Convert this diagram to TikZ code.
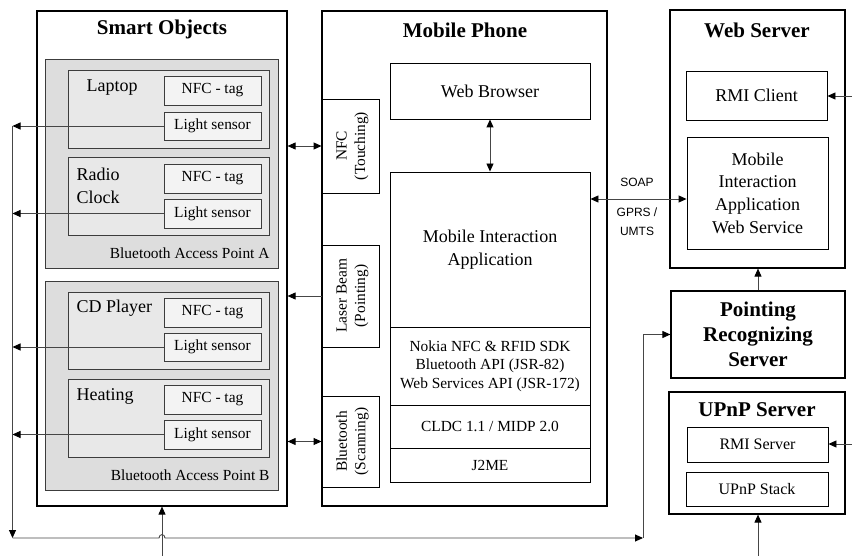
\documentclass[tikz,border=0pt]{standalone}
\usepackage{fontspec}
\setmainfont{Liberation Serif}
\newfontfamily\soapfont{Liberation Sans}
\usetikzlibrary{arrows.meta}
\definecolor{apfill}{RGB}{221,221,221}
\definecolor{objfill}{RGB}{232,232,232}
\definecolor{tagfill}{RGB}{243,243,243}
\definecolor{linegray}{RGB}{70,70,70}
\definecolor{boxgray}{RGB}{60,60,60}
\begin{document}
\begin{tikzpicture}[x=1pt,y=-1pt,
  outerbox/.style={draw=black, line width=1.2pt, inner sep=0pt},
  apbox/.style={draw=boxgray, line width=0.9pt, fill=apfill, inner sep=0pt},
  objbox/.style={draw=boxgray, line width=0.9pt, fill=objfill, inner sep=0pt},
  tagbox/.style={draw=boxgray, line width=0.9pt, fill=tagfill, inner sep=0pt, smallf, minimum width=97pt},
  plainbox/.style={draw=black, line width=0.9pt, inner sep=0pt, align=center},
  conn/.style={draw=linegray, line width=0.9pt},
  onearrow/.style={-{Triangle[length=8pt,width=7pt,color=black]}},
  twoarrow/.style={{Triangle[length=8pt,width=7pt,color=black]}-{Triangle[length=8pt,width=7pt,color=black]}},
  titlef/.style={font=\fontsize{21}{25}\selectfont\bfseries, align=center},
  regf/.style={font=\fontsize{18}{22.7}\selectfont, align=center},
  smallf/.style={font=\fontsize{15.4}{18.5}\selectfont, align=center},
  soapf/.style={font=\soapfont\fontsize{12}{14}\selectfont}
]
\useasboundingbox (0,0) rectangle (852,556);

% ---------------- Smart Objects ----------------
\node[outerbox, minimum width=250pt, minimum height=495pt] (so) at (162,258.5) {};
\node[titlef] (sot) at (162,29) {Smart Objects};

\node[apbox, minimum width=233pt, minimum height=209pt] (apa) at (161.5,163.5) {};
\node[objbox, minimum width=201pt, minimum height=78pt] (lap) at (168.5,109) {};
\node[tagbox, minimum height=29pt] (nfc1) at (212.5,90.5) {NFC - tag};
\node[tagbox, minimum height=28pt] (ls1) at (212.5,126) {Light sensor};
\node[regf, anchor=west] (lapt) at (83,88) {Laptop};

\node[objbox, minimum width=201pt, minimum height=78pt] (rad) at (168.5,196) {};
\node[tagbox, minimum height=29pt] (nfc2) at (212.5,178.5) {NFC - tag};
\node[tagbox, minimum height=29pt] (ls2) at (212.5,213.5) {Light sensor};
\node[regf, anchor=west, align=left] (radt) at (73,186) {Radio\\Clock};
\node[smallf, anchor=east] (apat) at (273,253) {Bluetooth Access Point A};

\node[apbox, minimum width=233pt, minimum height=209pt] (apb) at (161.5,385.5) {};
\node[objbox, minimum width=201pt, minimum height=77pt] (cd) at (168.5,330.5) {};
\node[tagbox, minimum height=29pt] (nfc3) at (212.5,312.5) {NFC - tag};
\node[tagbox, minimum height=28pt] (ls3) at (212.5,347) {Light sensor};
\node[regf, anchor=west] (cdt) at (73,308) {CD Player};

\node[objbox, minimum width=201pt, minimum height=78pt] (heat) at (168.5,418) {};
\node[tagbox, minimum height=29pt] (nfc4) at (212.5,399.5) {NFC - tag};
\node[tagbox, minimum height=29pt] (ls4) at (212.5,434.5) {Light sensor};
\node[regf, anchor=west] (heatt) at (73,396) {Heating};
\node[smallf, anchor=east] (apbt) at (273,475) {Bluetooth Access Point B};

% ---------------- Mobile Phone ----------------
\node[outerbox, minimum width=285pt, minimum height=495pt] (mp) at (464.5,258.5) {};
\node[titlef] (mpt) at (465,30) {Mobile Phone};
\node[plainbox, regf, minimum width=200pt, minimum height=56pt] (wb) at (490,91) {Web Browser};
\node[plainbox, regf, minimum width=200pt, minimum height=155pt] (mia) at (490,249.5) {Mobile Interaction\\Application};
\node[plainbox, smallf, minimum width=200pt, minimum height=78pt] (sdk) at (490,366) {Nokia NFC \& RFID SDK\\Bluetooth API (JSR-82)\\Web Services API (JSR-172)};
\node[plainbox, smallf, minimum width=200pt, minimum height=43pt] (cldc) at (490,426.5) {CLDC 1.1 / MIDP 2.0};
\node[plainbox, smallf, minimum width=200pt, minimum height=34pt] (j2me) at (490,465) {J2ME};

\node[plainbox, fill=white, minimum width=57pt, minimum height=94pt] (nfcb) at (350.5,146) {};
\node[smallf, rotate=90] (nfcbt) at (352.5,146) {NFC\\(Touching)};
\node[plainbox, fill=white, minimum width=57pt, minimum height=102pt] (laser) at (350.5,296) {};
\node[smallf, rotate=90] (lasert) at (352.5,296) {Laser Beam\\(Pointing)};
\node[plainbox, fill=white, minimum width=57pt, minimum height=91pt] (bt) at (350.5,441.5) {};
\node[smallf, rotate=90] (btt) at (352.5,441.5) {Bluetooth\\(Scanning)};

% ---------------- Web Server ----------------
\node[outerbox, minimum width=175pt, minimum height=258pt] (web) at (757.5,139) {};
\node[titlef] (webt) at (757,30) {Web Server};
\node[plainbox, regf, minimum width=141pt, minimum height=49pt] (rc) at (756.5,95.5) {RMI Client};
\node[plainbox, regf, minimum width=141pt, minimum height=112pt] (ws) at (757.5,193) {Mobile\\Interaction\\Application\\Web Service};

% ---------------- Pointing Recognizing Server ----------------
\node[outerbox, titlef, minimum width=174pt, minimum height=87pt] (prs) at (758,334.5) {Pointing\\Recognizing\\Server};

% ---------------- UPnP Server ----------------
\node[outerbox, minimum width=176pt, minimum height=122pt] (upnp) at (757,453) {};
\node[titlef] (upnpt) at (757,410) {UPnP Server};
\node[plainbox, font=\fontsize{16}{19}\selectfont, minimum width=141pt, minimum height=35pt] (rs) at (757.5,444.5) {RMI Server};
\node[plainbox, font=\fontsize{16}{19}\selectfont, minimum width=142pt, minimum height=34pt] (ustack) at (757,489) {UPnP Stack};

% ---------------- coordinates ----------------
\coordinate (busL) at (12.5,538);
\coordinate (hopL) at (159,538);
\coordinate (hopR) at (165,538);
\coordinate (busR) at (643,538);
\coordinate (soin) at (162,556);
\coordinate (upin) at (758,556);
\coordinate (rcin) at (852,96);
\coordinate (rsin) at (852,444);
\coordinate (soapy) at (0,199);

% ---------------- connectors ----------------
\draw[conn, onearrow] (ls1.west) -- (ls1.west -| busL);
\draw[conn, onearrow] (ls2.west) -- (ls2.west -| busL);
\draw[conn, onearrow] (ls3.west) -- (ls3.west -| busL);
\draw[conn, onearrow] (ls4.west) -- (ls4.west -| busL);
\draw[conn, onearrow] (ls1.west -| busL) -- (busL);
\draw[conn, onearrow] (busL) -- (hopL) .. controls +(0,-4.5) and +(0,-4.5) .. (hopR) -- (busR);
\draw[conn, onearrow] (busR) -- (busR |- prs) -- (prs.west);
\draw[conn, onearrow] (soin) -- (soin |- so.south);

\draw[conn, twoarrow] (so.east |- nfcb) -- (nfcb.west);
\draw[conn, onearrow] (laser.west) -- (laser.west -| so.east);
\draw[conn, twoarrow] (so.east |- bt) -- (bt.west);

\draw[conn, twoarrow] (wb.south) -- (mia.north);
\draw[conn, twoarrow] (mia.east |- soapy) -- (ws.west |- soapy);
\node[soapf] (soap) at (637,182) {SOAP};
\node[soapf] (gprs) at (637,212) {GPRS /};
\node[soapf] (umts) at (637,231) {UMTS};

\draw[conn, onearrow] (rcin) -- (rc.east |- rcin);
\draw[conn, onearrow] (rsin) -- (rs.east |- rsin);
\draw[conn, onearrow] (prs.north) -- (prs.north |- web.south);
\draw[conn, onearrow] (upin) -- (upin |- upnp.south);
\end{tikzpicture}
\end{document}
